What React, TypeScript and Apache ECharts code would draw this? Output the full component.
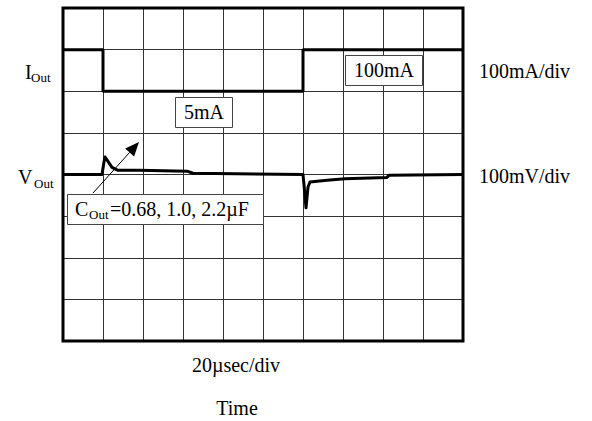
import React, { useEffect, useRef } from "react";
import * as echarts from "echarts";

// Scope screen: 10 horizontal divisions of 20 µs, 8 vertical divisions.
const TIME_DIVS = 10;
const US_PER_DIV = 20;
const V_DIVS = 8;

// Load current step, expressed in screen divisions (100 mA/div).
const I_TIME = [0, 20, 20, 120, 120, 200];
const I_LEVEL = [7, 7, 6, 6, 7, 7];

// Output voltage deviation in mV (100 mV/div), centred on division 4.
const V_CENTER_DIV = 4;
const MV_PER_DIV = 100;
const V_TIME = [0, 19.5, 20.5, 21, 22, 24.5, 27.5, 38, 62, 65, 120, 120.5, 121.5, 122.5, 123.5, 132, 141, 162, 163, 200];
const V_MV = [0, 0, 30, 42, 35, 17, 10, 10, 8, 3, 0, -25, -80, -30, -18, -14, -10, -7, -2, 0];

const FONT = "Liberation Serif, Times New Roman, serif";

export default function App() {
  const ref = useRef<HTMLDivElement>(null);

  useEffect(() => {
    if (!ref.current) return;
    const chart = echarts.init(ref.current, null, { renderer: "svg" });

    const iData = I_TIME.map((t, k) => [t, I_LEVEL[k]]);
    const vData = V_TIME.map((t, k) => [t, V_CENTER_DIV + V_MV[k] / MV_PER_DIV]);

    const txt = (text: string, x: number, y: number, size: number, align = "left") => ({
      type: "text",
      x,
      y,
      z: 10,
      style: {
        text,
        font: `${size}px ${FONT}`,
        fill: "#000",
        textAlign: align,
        textVerticalAlign: "middle",
      },
    });
    const box = (x: number, y: number, w: number, h: number) => ({
      type: "rect",
      z: 9,
      shape: { x, y, width: w, height: h },
      style: { fill: "#fff", stroke: "#444", lineWidth: 1 },
    });

    // Arrow pointing at the overshoot region.
    const tail = [93, 193];
    const tip = [139, 142];
    const dx = tip[0] - tail[0];
    const dy = tip[1] - tail[1];
    const len = Math.hypot(dx, dy);
    const ux = dx / len;
    const uy = dy / len;
    const headLen = 14;
    const headHalf = 6;
    const bx = tip[0] - ux * headLen;
    const by = tip[1] - uy * headLen;

    chart.setOption({
      animation: false,
      backgroundColor: "#fff",
      grid: {
        left: 63,
        top: 8,
        width: 400,
        height: 333,
        show: true,
        borderColor: "#000",
        borderWidth: 3,
        backgroundColor: "transparent",
        z: 3,
      },
      xAxis: {
        type: "value",
        min: 0,
        max: TIME_DIVS * US_PER_DIV,
        interval: US_PER_DIV,
        axisLine: { show: false },
        axisTick: { show: false },
        axisLabel: { show: false },
        splitLine: { show: true, lineStyle: { color: "#333", width: 1 } },
      },
      yAxis: {
        type: "value",
        min: 0,
        max: V_DIVS,
        interval: 1,
        axisLine: { show: false },
        axisTick: { show: false },
        axisLabel: { show: false },
        splitLine: { show: true, lineStyle: { color: "#333", width: 1 } },
      },
      series: [
        {
          name: "IOut",
          type: "line",
          data: iData,
          showSymbol: false,
          lineStyle: { color: "#000", width: 3 },
          z: 5,
        },
        {
          name: "VOut",
          type: "line",
          data: vData,
          showSymbol: false,
          lineStyle: { color: "#000", width: 3, join: "round" },
          z: 5,
        },
      ],
      graphic: [
        txt("I", 25, 72, 20),
        txt("Out", 31, 77, 13),
        txt("V", 18, 177, 20),
        txt("Out", 34, 183, 13),
        txt("100mA/div", 479, 71, 20),
        txt("100mV/div", 479, 176, 20),
        box(175.5, 97.5, 57, 30),
        txt("5mA", 204, 112, 20, "center"),
        box(345.5, 55.5, 77, 30),
        txt("100mA", 384, 70, 20, "center"),
        box(67.5, 194.5, 196, 30),
        txt("C", 75, 209, 20),
        txt("Out", 89, 214, 13),
        txt("=0.68, 1.0, 2.2µF", 110, 209, 20),
        {
          type: "line",
          z: 11,
          shape: { x1: tail[0], y1: tail[1], x2: bx, y2: by },
          style: { stroke: "#000", lineWidth: 1 },
        },
        {
          type: "polygon",
          z: 11,
          shape: {
            points: [
              [tip[0], tip[1]],
              [bx + uy * headHalf, by - ux * headHalf],
              [bx - uy * headHalf, by + ux * headHalf],
            ],
          },
          style: { fill: "#000" },
        },
        txt("20µsec/div", 236, 365, 20, "center"),
        txt("Time", 237, 408, 20, "center"),
      ],
    });

    return () => chart.dispose();
  }, []);

  return (
    <div
      ref={ref}
      style={{ position: "fixed", left: 0, top: 0, width: 592, height: 421, background: "#fff" }}
    />
  );
}
